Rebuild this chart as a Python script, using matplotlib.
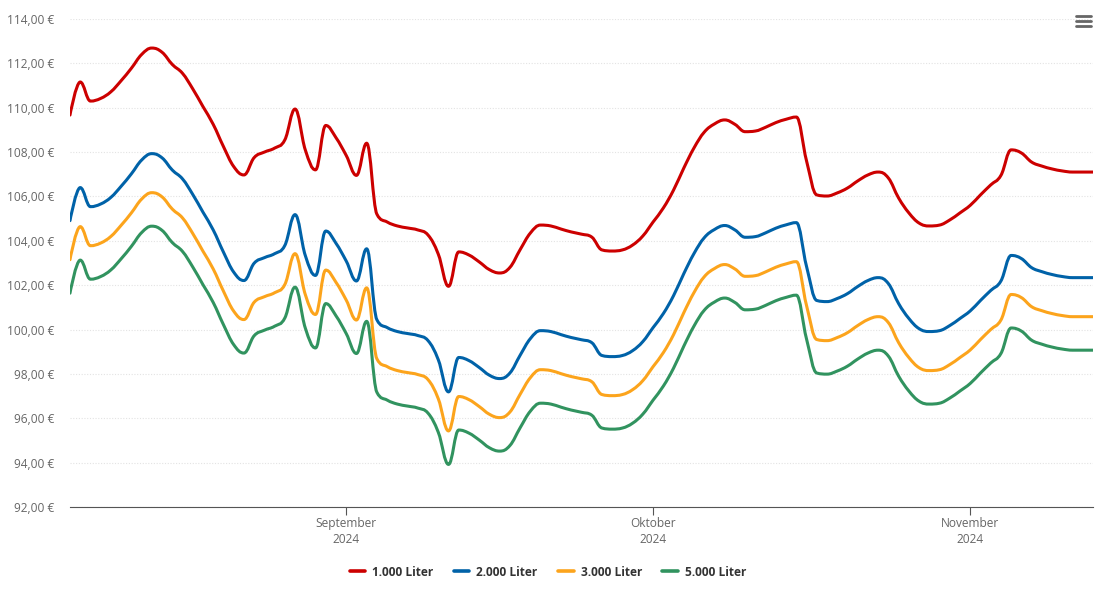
"""
Heating oil price chart (Aug - Nov 2024), four order sizes.
"""

import numpy as np
import pandas as pd
import matplotlib
matplotlib.use("Agg")
import matplotlib.pyplot as plt
import matplotlib.dates as mdates
from matplotlib.path import Path
from matplotlib.patches import PathPatch
from matplotlib.lines import Line2D
from matplotlib.ticker import FuncFormatter, MultipleLocator

plt.rcParams["font.family"] = ["Open Sans", "DejaVu Sans"]

dates = pd.date_range("2024-08-05", "2024-11-13", freq="D")

series_names = ["1.000 Liter", "2.000 Liter", "3.000 Liter", "5.000 Liter"]
series_colors = ["#cc0000", "#0062a8", "#fca41c", "#31935f"]

price_1000 = [
    109.67, 111.16, 110.30, 110.42, 110.72, 111.22, 111.78, 112.40, 112.69, 112.50,
    111.95, 111.55, 110.85, 110.05, 109.25, 108.25, 107.35, 106.97, 107.75, 108.00,
    108.18, 108.55, 109.94, 108.10, 107.20, 109.20, 108.65, 107.85, 106.95, 108.40,
    105.20, 104.85, 104.67, 104.58, 104.49, 104.26, 103.40, 101.95, 103.50, 103.36,
    103.05, 102.70, 102.55, 102.80, 103.60, 104.35, 104.71, 104.67, 104.53, 104.40,
    104.30, 104.17, 103.59, 103.54, 103.59, 103.81, 104.22, 104.85, 105.48, 106.29,
    107.28, 108.19, 108.90, 109.27, 109.45, 109.25, 108.92, 108.95, 109.12, 109.33,
    109.48, 109.58, 107.60, 106.07, 106.02, 106.16, 106.38, 106.70, 106.97, 107.10,
    106.83, 105.93, 105.26, 104.80, 104.67, 104.71, 104.94, 105.26, 105.60, 106.07,
    106.52, 106.95, 108.10, 107.96, 107.55, 107.37, 107.24, 107.15, 107.10, 107.10,
    107.10,
]

price_2000 = [
    104.91, 106.40, 105.54, 105.66, 105.96, 106.46, 107.02, 107.64, 107.93, 107.74,
    107.19, 106.79, 106.09, 105.29, 104.49, 103.49, 102.59, 102.21, 102.99, 103.24,
    103.42, 103.79, 105.18, 103.34, 102.44, 104.44, 103.89, 103.09, 102.19, 103.64,
    100.44, 100.09, 99.91, 99.82, 99.73, 99.50, 98.64, 97.19, 98.74, 98.60,
    98.29, 97.94, 97.79, 98.04, 98.84, 99.59, 99.95, 99.91, 99.77, 99.64,
    99.54, 99.41, 98.83, 98.78, 98.83, 99.05, 99.46, 100.09, 100.72, 101.53,
    102.52, 103.43, 104.14, 104.51, 104.69, 104.49, 104.16, 104.19, 104.36, 104.57,
    104.72, 104.82, 102.84, 101.31, 101.26, 101.40, 101.62, 101.94, 102.21, 102.34,
    102.07, 101.17, 100.50, 100.04, 99.91, 99.95, 100.18, 100.50, 100.84, 101.31,
    101.76, 102.19, 103.34, 103.20, 102.79, 102.61, 102.48, 102.39, 102.34, 102.34,
    102.34,
]

price_3000 = [
    103.15, 104.64, 103.78, 103.90, 104.20, 104.70, 105.26, 105.88, 106.17, 105.98,
    105.43, 105.03, 104.33, 103.53, 102.73, 101.73, 100.83, 100.45, 101.23, 101.48,
    101.66, 102.03, 103.42, 101.58, 100.68, 102.68, 102.13, 101.33, 100.43, 101.88,
    98.68, 98.33, 98.15, 98.06, 97.97, 97.74, 96.88, 95.43, 96.98, 96.84,
    96.53, 96.18, 96.03, 96.28, 97.08, 97.83, 98.19, 98.15, 98.01, 97.88,
    97.78, 97.65, 97.07, 97.02, 97.07, 97.29, 97.70, 98.33, 98.96, 99.77,
    100.76, 101.67, 102.38, 102.75, 102.93, 102.73, 102.40, 102.43, 102.60, 102.81,
    102.96, 103.06, 101.08, 99.55, 99.50, 99.64, 99.86, 100.18, 100.45, 100.58,
    100.31, 99.41, 98.74, 98.28, 98.15, 98.19, 98.42, 98.74, 99.08, 99.55,
    100.00, 100.43, 101.58, 101.44, 101.03, 100.85, 100.72, 100.63, 100.58, 100.58,
    100.58,
]

price_5000 = [
    101.64, 103.13, 102.27, 102.39, 102.69, 103.19, 103.75, 104.37, 104.66, 104.47,
    103.92, 103.52, 102.82, 102.02, 101.22, 100.22, 99.32, 98.94, 99.72, 99.97,
    100.15, 100.52, 101.91, 100.07, 99.17, 101.17, 100.62, 99.82, 98.92, 100.37,
    97.17, 96.82, 96.64, 96.55, 96.46, 96.23, 95.37, 93.92, 95.47, 95.33,
    95.02, 94.67, 94.52, 94.77, 95.57, 96.32, 96.68, 96.64, 96.50, 96.37,
    96.27, 96.14, 95.56, 95.51, 95.56, 95.78, 96.19, 96.82, 97.45, 98.26,
    99.25, 100.16, 100.87, 101.24, 101.42, 101.22, 100.89, 100.92, 101.09, 101.30,
    101.45, 101.55, 99.57, 98.04, 97.99, 98.13, 98.35, 98.67, 98.94, 99.07,
    98.80, 97.90, 97.23, 96.77, 96.64, 96.68, 96.91, 97.23, 97.57, 98.04,
    98.49, 98.92, 100.07, 99.93, 99.52, 99.34, 99.21, 99.12, 99.07, 99.07,
    99.07,
]

month_ticks = ["2024-09-01", "2024-10-01", "2024-11-01"]
month_labels = ["September\n2024", "Oktober\n2024", "November\n2024"]


def spline_path(xs, ys, smoothing=1.5):
    """Bezier path through the points, same control point rule as a Highcharts spline."""
    n = len(xs)
    denom = smoothing + 1
    left = [None] * n
    right = [None] * n
    for i in range(1, n - 1):
        px, py = xs[i], ys[i]
        lx, ly = xs[i - 1], ys[i - 1]
        nx, ny = xs[i + 1], ys[i + 1]
        lcx = (smoothing * px + lx) / denom
        lcy = (smoothing * py + ly) / denom
        rcx = (smoothing * px + nx) / denom
        rcy = (smoothing * py + ny) / denom
        if rcx != lcx:
            corr = (rcy - lcy) * (rcx - px) / (rcx - lcx) + py - rcy
            lcy += corr
            rcy += corr
        if lcy > ly and lcy > py:
            lcy = max(ly, py)
            rcy = 2 * py - lcy
        elif lcy < ly and lcy < py:
            lcy = min(ly, py)
            rcy = 2 * py - lcy
        if rcy > ny and rcy > py:
            rcy = max(ny, py)
            lcy = 2 * py - rcy
        elif rcy < ny and rcy < py:
            rcy = min(ny, py)
            lcy = 2 * py - rcy
        left[i] = (lcx, lcy)
        right[i] = (rcx, rcy)

    verts = [(xs[0], ys[0])]
    codes = [Path.MOVETO]
    for i in range(1, n):
        c1 = right[i - 1] if right[i - 1] is not None else (xs[i - 1], ys[i - 1])
        c2 = left[i] if left[i] is not None else (xs[i], ys[i])
        verts += [c1, c2, (xs[i], ys[i])]
        codes += [Path.CURVE4] * 3
    return Path(verts, codes)


fig = plt.figure(figsize=(11.05, 6.02), dpi=100)
ax = fig.add_axes([70 / 1105, 95 / 602, 1023 / 1105, 488 / 602])

xnum = mdates.date2num(dates.to_pydatetime())
all_series = [price_1000, price_2000, price_3000, price_5000]
for values, color in zip(all_series, series_colors):
    path = spline_path(list(xnum), list(values))
    ax.add_patch(PathPatch(path, fill=False, edgecolor=color, lw=2.2,
                           capstyle="round", joinstyle="round", zorder=3))

ax.set_xlim(xnum[0], xnum[-1])
ax.set_ylim(92, 114)

# y axis: labels only, dotted light grid
ax.yaxis.set_major_locator(MultipleLocator(2))
ax.yaxis.set_major_formatter(FuncFormatter(lambda v, _: f"{v:.2f}".replace(".", ",") + " €"))
ax.tick_params(axis="y", length=0, pad=11, labelsize=8.6, labelcolor="#666666")
ax.grid(axis="y", color="#e3e3e3", linestyle=(0, (1, 1.5)), linewidth=0.8)
ax.set_axisbelow(True)

# x axis: month ticks
ax.set_xticks(mdates.date2num(pd.to_datetime(month_ticks).to_pydatetime()))
ax.set_xticklabels(month_labels, linespacing=1.3)
ax.tick_params(axis="x", length=6, width=0.8, color="#555555", pad=1.5,
               labelsize=8.6, labelcolor="#666666")

for side in ["top", "right", "left"]:
    ax.spines[side].set_visible(False)
ax.spines["bottom"].set_color("#555555")
ax.spines["bottom"].set_linewidth(0.8)

handles = [Line2D([], [], color=c, lw=2.6, solid_capstyle="round") for c in series_colors]
leg = fig.legend(handles, series_names, loc="center", bbox_to_anchor=(548 / 1105, 1 - 572 / 602),
                 ncol=4, frameon=False, handlelength=1.3, handletextpad=0.6, columnspacing=1.7,
                 prop={"size": 8.6, "weight": "bold"})
for txt in leg.get_texts():
    txt.set_color("#333333")

# menu icon, top right
for yy in [16, 21, 26]:
    fig.add_artist(Line2D([1076 / 1105, 1091 / 1105], [1 - yy / 602, 1 - yy / 602],
                          color="#666666", lw=2.0, solid_capstyle="round"))

fig.savefig("out.png", dpi=100)
